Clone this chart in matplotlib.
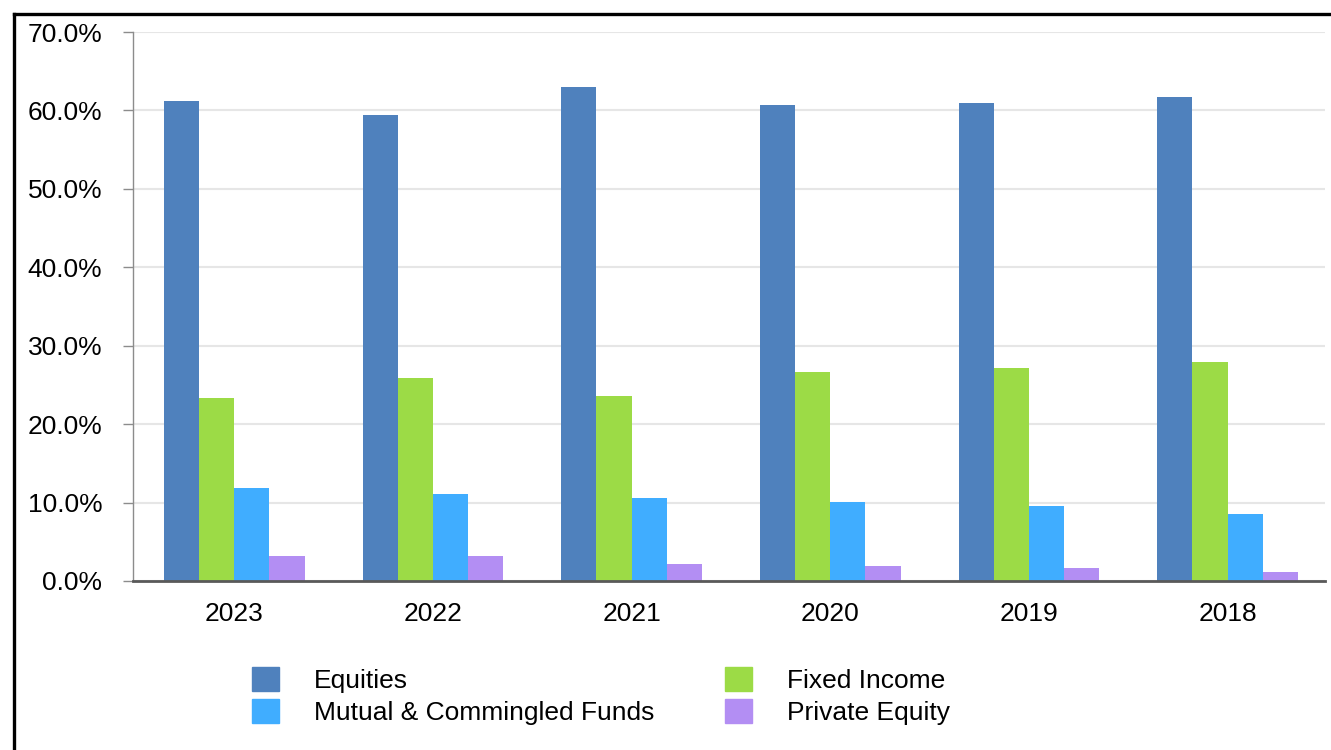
import matplotlib.pyplot as plt
import matplotlib.patches as mpatches
import numpy as np

years = ['2023', '2022', '2021', '2020', '2019', '2018']
series_names = ['Equities', 'Fixed Income', 'Mutual & Commingled Funds', 'Private Equity']
equities = [61.2, 59.4, 63.0, 60.7, 60.9, 61.7]
fixed_income = [23.3, 25.9, 23.6, 26.6, 27.2, 27.9]
mutual_funds = [11.9, 11.1, 10.6, 10.1, 9.6, 8.5]
private_equity = [3.2, 3.2, 2.2, 1.9, 1.7, 1.2]
colors = ['#4f81bd', '#9cdb46', '#40adff', '#b38ef3']

plt.rcParams['font.family'] = ['Liberation Sans', 'DejaVu Sans']

fig = plt.figure(figsize=(13.31, 7.5), dpi=100)
ax = fig.add_axes([133 / 1331, 1 - 581 / 750, 1192 / 1331, 549 / 750])

x = np.arange(len(years))
w = 0.177
all_series = [equities, fixed_income, mutual_funds, private_equity]
for i, (vals, c) in enumerate(zip(all_series, colors)):
    ax.bar(x + (i - 1.5) * w, vals, width=w, color=c, zorder=3, linewidth=0)

ax.set_xlim(-0.51, 5.49)
ax.set_ylim(0, 70)
ax.set_yticks(np.arange(0, 71, 10))
ax.set_yticklabels([f'{v:.1f}%' for v in np.arange(0, 71, 10)])
ax.set_xticks(x)
ax.set_xticklabels(years)
ax.tick_params(axis='y', length=7.2, width=1, color='#8c8c8c', pad=15, labelsize=19)
ax.tick_params(axis='x', length=0, pad=15, labelsize=19)
ax.grid(axis='y', color='#e6e6e6', linewidth=1.5, zorder=0)
for s in ['top', 'right']:
    ax.spines[s].set_visible(False)
ax.spines['left'].set_color('#8c8c8c')
ax.spines['left'].set_linewidth(1)
ax.spines['bottom'].set_color('#595959')
ax.spines['bottom'].set_linewidth(2)
ax.spines['bottom'].set_zorder(4)

# legend: column-wise fill -> Equities, Mutual / Fixed Income, Private Equity
order = [0, 2, 1, 3]
handles = [mpatches.Patch(color=colors[i]) for i in order]
labels = [series_names[i] for i in order]
fig.legend(handles, labels, loc='upper left', ncol=2,
           bbox_to_anchor=(252 / 1331, 1 - 667 / 750),
           frameon=False, fontsize=19, borderpad=0, borderaxespad=0,
           handlelength=1.02, handleheight=1.02, handletextpad=1.33,
           labelspacing=0.21, columnspacing=2.68)

# outer black frame (left and top edges visible)
fig.add_artist(plt.Line2D([13.5 / 1331, 13.5 / 1331], [0, 1 - 13.5 / 750],
                          transform=fig.transFigure, color='black', linewidth=2.4))
fig.add_artist(plt.Line2D([13.5 / 1331, 1], [1 - 13.5 / 750, 1 - 13.5 / 750],
                          transform=fig.transFigure, color='black', linewidth=2.4))

fig.savefig('out.png', dpi=100)
